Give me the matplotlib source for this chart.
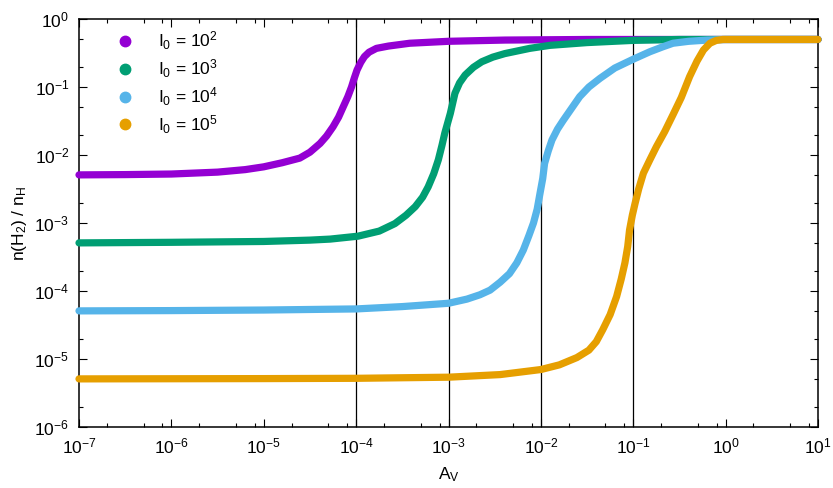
import numpy as np
import matplotlib
matplotlib.use("Agg")
import matplotlib.pyplot as plt
from matplotlib.lines import Line2D
from matplotlib.ticker import LogLocator, LogFormatterSciNotation, NullFormatter

plt.rcParams['font.family'] = ['Liberation Sans', 'DejaVu Sans']
plt.rcParams['mathtext.fontset'] = 'custom'
plt.rcParams['mathtext.rm'] = 'Liberation Sans'
plt.rcParams['mathtext.it'] = 'Liberation Sans:italic'
plt.rcParams['mathtext.bf'] = 'Liberation Sans:bold'

# data (log10 A_V, n(H2)/nH)
logav_1e2 = [-7, -6.5, -6, -5.5, -5.2, -5, -4.8, -4.61, -4.5, -4.39, -4.32, -4.25, -4.19,
             -4.14, -4.09, -4.05, -4.02, -3.99, -3.95, -3.91, -3.86, -3.78, -3.65, -3.42,
             -3.0, -2.39, -1.5, 1]
h2_1e2 = [5.1e-3, 5.15e-3, 5.25e-3, 5.6e-3, 6.1e-3, 6.7e-3, 7.7e-3, 9.0e-3, 1.1e-2, 1.48e-2,
          1.9e-2, 2.6e-2, 3.6e-2, 5.1e-2, 7.2e-2, 0.1, 0.135, 0.178, 0.23, 0.28, 0.325, 0.37,
          0.40, 0.44, 0.47, 0.49, 0.5, 0.5]

logav_1e3 = [-7, -6, -5, -4.5, -4.28, -3.98, -3.75, -3.58, -3.46, -3.36, -3.28, -3.22, -3.16,
             -3.11, -3.07, -3.04, -2.98, -2.93, -2.88, -2.82, -2.73, -2.64, -2.52, -2.39,
             -2.12, -1.9, -1.5, -1.0, -0.5, 1]
h2_1e3 = [5.1e-4, 5.2e-4, 5.35e-4, 5.6e-4, 5.8e-4, 6.4e-4, 7.6e-4, 9.8e-4, 1.3e-3, 1.74e-3,
          2.4e-3, 3.4e-3, 5.3e-3, 8.5e-3, 1.4e-2, 2.1e-2, 4.1e-2, 8.1e-2, 0.115, 0.15, 0.195,
          0.235, 0.275, 0.31, 0.37, 0.41, 0.45, 0.485, 0.5, 0.5]

logav_1e4 = [-7, -6, -5, -4, -3.5, -3.0, -2.8, -2.66, -2.55, -2.44, -2.34, -2.26, -2.19,
             -2.13, -2.08, -2.04, -2.01, -1.98, -1.96, -1.92, -1.88, -1.82, -1.76, -1.67,
             -1.58, -1.48, -1.36, -1.2, -0.99, -0.82, -0.68, -0.57, -0.4, -0.2, 0, 1]
h2_1e4 = [5.1e-5, 5.15e-5, 5.25e-5, 5.45e-5, 5.9e-5, 6.6e-5, 7.6e-5, 8.8e-5, 1.03e-4, 1.35e-4,
          1.8e-4, 2.6e-4, 4.0e-4, 6.5e-4, 1.0e-3, 1.6e-3, 2.7e-3, 4.5e-3, 7.5e-3, 1.15e-2,
          1.66e-2, 2.4e-2, 3.2e-2, 4.8e-2, 7.2e-2, 0.1, 0.134, 0.19, 0.26, 0.33, 0.39, 0.44,
          0.47, 0.49, 0.5, 0.5]

logav_1e5 = [-7, -5, -4, -3, -2.44, -2.0, -1.8, -1.61, -1.48, -1.4, -1.33, -1.25, -1.18,
             -1.13, -1.09, -1.06, -1.04, -1.01, -0.98, -0.94, -0.89, -0.82, -0.75, -0.66,
             -0.57, -0.48, -0.39, -0.31, -0.24, -0.17, -0.10, -0.03, 1]
h2_1e5 = [5.1e-6, 5.15e-6, 5.2e-6, 5.4e-6, 5.9e-6, 7.0e-6, 8.2e-6, 1.05e-5, 1.35e-5, 1.8e-5,
          2.7e-5, 4.5e-5, 8.3e-5, 1.5e-4, 2.6e-4, 4.5e-4, 7.9e-4, 1.3e-3, 1.95e-3, 3.2e-3,
          5.4e-3, 8.5e-3, 1.32e-2, 2.2e-2, 3.9e-2, 7.0e-2, 0.142, 0.24, 0.35, 0.44, 0.485,
          0.5, 0.5]

labels = [r'I$_\mathrm{0}$ = 10$^\mathrm{2}$', r'I$_\mathrm{0}$ = 10$^\mathrm{3}$',
          r'I$_\mathrm{0}$ = 10$^\mathrm{4}$', r'I$_\mathrm{0}$ = 10$^\mathrm{5}$']
colors = ['#9400d3', '#009e73', '#56b4e9', '#e69f00']
vlines = [1e-4, 1e-3, 1e-2, 1e-1]

series = [(logav_1e2, h2_1e2), (logav_1e3, h2_1e3), (logav_1e4, h2_1e4), (logav_1e5, h2_1e5)]

fig = plt.figure(figsize=(8.33, 4.88), dpi=100)
ax = fig.add_axes([79/833, 1-427/488, (818-79)/833, (427-19)/488])

for v in vlines:
    ax.axvline(v, color='black', lw=0.9, zorder=1)

for (lx, y), c in zip(series, colors):
    ax.plot(10**np.array(lx), y, color=c, lw=5.2, solid_capstyle='round',
            solid_joinstyle='round', zorder=3, clip_on=False)

ax.set_xscale('log')
ax.set_yscale('log')
ax.set_xlim(1e-7, 1e1)
ax.set_ylim(1e-6, 1e0)

ax.xaxis.set_major_locator(LogLocator(base=10, numticks=20))
ax.xaxis.set_minor_locator(LogLocator(base=10, subs=[2, 5, 8], numticks=20))
ax.yaxis.set_major_locator(LogLocator(base=10, numticks=20))
ax.yaxis.set_minor_locator(LogLocator(base=10, subs=[2, 5], numticks=20))
ax.xaxis.set_major_formatter(LogFormatterSciNotation())
ax.yaxis.set_major_formatter(LogFormatterSciNotation())
ax.xaxis.set_minor_formatter(NullFormatter())
ax.yaxis.set_minor_formatter(NullFormatter())

ax.tick_params(which='both', direction='in', top=True, right=True, labelsize=12.5, width=0.8)
ax.tick_params(which='major', length=6, pad=7)
ax.tick_params(which='minor', length=3)
for s in ax.spines.values():
    s.set_linewidth(1.1)

ax.set_xlabel(r'A$_\mathrm{V}$', fontsize=12.5, labelpad=6)
ax.set_ylabel(r'n(H$_\mathrm{2}$) / n$_\mathrm{H}$', fontsize=12.5, labelpad=4)

handles = [Line2D([], [], ls='none', marker='o', ms=7.5, color=c) for c in colors]
ax.legend(handles, labels, loc='upper left', bbox_to_anchor=(0.03, 1.012), frameon=False,
          fontsize=12.5, handlelength=1.0, handletextpad=1.35, labelspacing=0.3)

fig.savefig('out.png', dpi=100)
